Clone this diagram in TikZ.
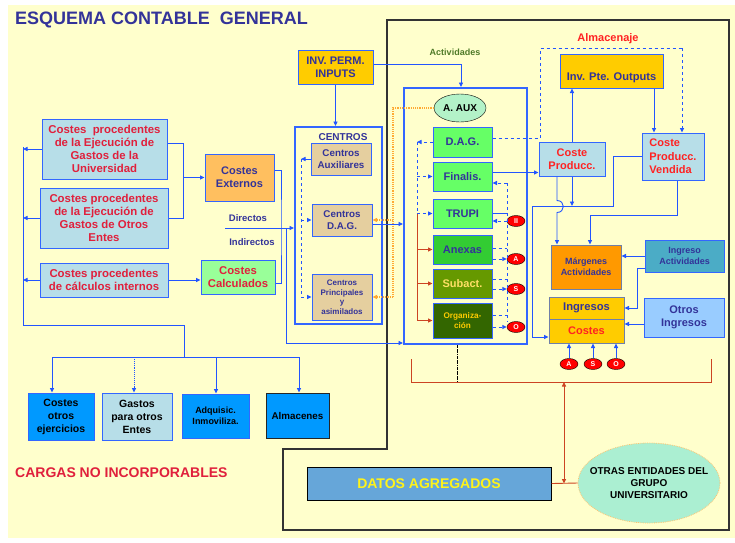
\documentclass[tikz,border=0pt]{standalone}
\usepackage{fontspec}
\setmainfont{Liberation Sans}
\usetikzlibrary{arrows.meta,shapes.geometric}

\definecolor{fondo}{HTML}{FFFFCC}
\definecolor{azulb}{HTML}{3366FF}
\definecolor{lazul}{HTML}{2255FF}
\definecolor{txtazul}{HTML}{333399}
\definecolor{txtrojo}{HTML}{E0203C}
\definecolor{rojo2}{HTML}{FF2222}
\definecolor{celeste}{HTML}{B7DEE8}
\definecolor{naranja}{HTML}{FFBF5F}
\definecolor{naranja2}{HTML}{FFAA33}
\definecolor{verdecl}{HTML}{99FF99}
\definecolor{oro}{HTML}{FFCC00}
\definecolor{tostado}{HTML}{E5CF9F}
\definecolor{verde1}{HTML}{66FF66}
\definecolor{verde2}{HTML}{33CC33}
\definecolor{oliva}{HTML}{669900}
\definecolor{verde3}{HTML}{336600}
\definecolor{verdetxt}{HTML}{4F7A28}
\definecolor{menta}{HTML}{B3F2C8}
\definecolor{menta2}{HTML}{ABEFD2}
\definecolor{margen}{HTML}{FF9900}
\definecolor{teal}{HTML}{4BACC6}
\definecolor{cielo}{HTML}{99CCFF}
\definecolor{azul2}{HTML}{0099FF}
\definecolor{datos}{HTML}{66A6D9}
\definecolor{rojoosc}{HTML}{CC4422}
\definecolor{bordegris}{HTML}{6F7FA8}

\newcommand{\tam}[2]{\fontsize{#1}{#2}\selectfont\bfseries}

\tikzset{
  caja/.style={draw=azulb, line width=1pt, inner sep=0pt, align=center},
  linea/.style={draw=lazul, line width=0.9pt},
  flecha/.style={linea, -{Triangle[length=4.5pt,width=4pt]}},
  naranjad/.style={draw=naranja2, line width=1.2pt, densely dotted},
  marron/.style={draw=rojoosc, line width=0.9pt},
  bola/.style={ellipse, draw=black, fill=red, text=white, font=\tam{7}{8},
    minimum width=18pt, minimum height=11pt, inner sep=0pt},
  etiq/.style={inner sep=0pt, text=txtazul, font=\tam{9.5}{11}},
}

\begin{document}
\begin{tikzpicture}[x=1pt,y=-1pt]
\fill[white] (0,0) rectangle (735,542);
\fill[fondo] (8,5) rectangle (735,538);
\useasboundingbox (0,0) rectangle (735,542);

\draw[black!80, line width=1.2pt] (387,20) -- (729,20) -- (729,530) -- (283,530)
  -- (283,449) -- (387,449) -- cycle;

\node[anchor=west, inner sep=0pt, text=txtazul, font=\tam{18}{20}] (titulo) at (15,19.5)
  {ESQUEMA CONTABLE\ \ GENERAL};
\node[anchor=west, inner sep=0pt, text=txtrojo, font=\tam{14}{16}] (cargas) at (15,473)
  {CARGAS NO INCORPORABLES};

% origen de los costes
\node[caja, fill=celeste, text=txtrojo, font=\tam{11.4}{13}, minimum width=125pt,
  minimum height=60pt] (univ) at (104.5,149)
  {Costes\ \ procedentes\\de la Ejecución de\\Gastos de la\\Universidad};
\node[caja, fill=celeste, text=txtrojo, font=\tam{11.4}{13}, minimum width=128pt,
  minimum height=60pt] (otros) at (104,218)
  {Costes procedentes\\de la Ejecución de\\Gastos de Otros\\Entes};
\node[caja, fill=celeste, text=txtrojo, font=\tam{11.4}{13}, minimum width=128pt,
  minimum height=34pt] (calc) at (104,280)
  {Costes procedentes\\de cálculos internos};
\node[caja, fill=naranja, text=txtazul, font=\tam{11}{13}, minimum width=69pt,
  minimum height=47pt] (cext) at (239.5,177.5) {Costes\\Externos};
\node[caja, fill=verdecl, text=txtrojo, font=\tam{11.3}{13}, minimum width=74pt,
  minimum height=34pt] (ccal) at (238,277) {Costes\\Calculados};
\node[etiq] (ldir) at (248,218) {Directos};
\node[etiq] (lind) at (252,242) {Indirectos};

% cargas no incorporables
\node[caja, fill=azul2, font=\tam{10.5}{13}, minimum width=66pt, minimum height=47pt]
  (coe) at (61,416.5) {Costes\\otros\\ejercicios};
\node[caja, fill=celeste, font=\tam{10.5}{13}, minimum width=70pt, minimum height=47pt]
  (gpo) at (137,416.5) {Gastos\\para otros\\Entes};
\node[caja, fill=azul2, font=\tam{9}{10.7}, minimum width=67pt, minimum height=44pt]
  (adq) at (215.5,416) {Adquisic.\\Inmoviliza.};
\node[caja, draw=black!85, fill=azul2, font=\tam{9.8}{12}, minimum width=63pt,
  minimum height=45pt] (alm) at (297.5,415.5) {Almacenes};

% centros
\node[caja, fill=oro, text=txtazul, font=\tam{11}{13}, minimum width=75pt,
  minimum height=34pt] (inv) at (335.5,67) {INV. PERM.\\INPUTS};
\node[draw=azulb, line width=2pt, minimum width=87pt, minimum height=197pt]
  (centros) at (338.5,225.5) {};
\node[inner sep=0pt, text=txtazul, font=\tam{10}{12}] (lcentros) at (343,137) {CENTROS};
\node[caja, fill=tostado, text=txtazul, font=\tam{9.8}{12}, minimum width=60pt,
  minimum height=32pt] (caux) at (341,159) {Centros\\Auxiliares};
\node[caja, fill=tostado, text=txtazul, font=\tam{9.8}{12}, minimum width=60pt,
  minimum height=32pt] (cdag) at (342,220) {Centros\\D.A.G.};
\node[caja, fill=tostado, text=txtazul, font=\tam{8}{9.5}, minimum width=60pt,
  minimum height=46pt] (cpri) at (342,297) {Centros\\Principales\\y\\asimilados};

% actividades
\node[inner sep=0pt, text=verdetxt, font=\tam{9}{11}] (lact) at (455,52) {Actividades};
\node[draw=azulb, line width=2pt, minimum width=123pt, minimum height=256pt]
  (activ) at (465.5,216) {};
\node[ellipse, draw=black, fill=menta, font=\tam{10}{12}, inner sep=0pt,
  minimum width=52pt, minimum height=28pt] (aaux) at (460,108) {A. AUX};
\node[caja, fill=verde1, text=txtazul, font=\tam{11}{13}, minimum width=59pt,
  minimum height=30pt] (dag) at (462.5,142) {D.A.G.};
\node[caja, fill=verde1, text=txtazul, font=\tam{11}{13}, minimum width=59pt,
  minimum height=29pt] (fin) at (462.5,176.5) {Finalis.};
\node[caja, fill=verde1, text=txtazul, font=\tam{11}{13}, minimum width=59pt,
  minimum height=29pt] (trupi) at (462.5,213.5) {TRUPI};
\node[caja, fill=verde2, text=txtazul, font=\tam{11}{13}, minimum width=59pt,
  minimum height=29pt] (anexas) at (462.5,249.5) {Anexas};
\node[caja, fill=oliva, text=oro!60, font=\tam{11}{13}, minimum width=59pt,
  minimum height=29pt] (subact) at (462.5,283.5) {Subact.};
\node[caja, fill=verde3, text=oro, font=\tam{8.2}{10}, minimum width=59pt,
  minimum height=35pt] (org) at (462.5,320.5) {Organiza-\\ción};
\node[bola] (bII) at (516,221) {II};
\node[bola] (bA) at (516,259) {A};
\node[bola] (bS) at (516,289) {S};
\node[bola] (bO) at (516,327) {O};

% produccion y resultados
\node[inner sep=0pt, text=rojo2, font=\tam{11}{13}] (lalm) at (608,39) {Almacenaje};
\node[caja, fill=oro, minimum width=103pt, minimum height=34pt,
  label={[name=ipotxt, yshift=-7pt, inner sep=0pt, text=txtazul, font=\tam{11.1}{13}]center:Inv. Pte. Outputs}]
  (ipo) at (611.5,71) {};
\node[caja, fill=celeste, text=rojo2, font=\tam{11}{13}, minimum width=66pt,
  minimum height=34pt] (cp) at (572,159) {Coste\\Producc.};
\node[caja, fill=celeste, text=rojo2, font=\tam{11}{13.3}, align=left, minimum width=62pt,
  minimum height=47pt] (cpv) at (673,156.5) {Coste\\Producc.\\Vendida};
\node[caja, draw=bordegris, fill=margen, text=txtazul, font=\tam{9}{11}, minimum width=70pt,
  minimum height=44pt] (marg) at (586,267) {Márgenes\\Actividades};
\node[caja, fill=teal, text=txtazul, font=\tam{9}{11}, minimum width=79pt,
  minimum height=32pt] (ingact) at (684.5,256) {Ingreso\\Actividades};
\node[caja, draw=bordegris, fill=oro, text=txtazul, font=\tam{11.2}{13}, minimum width=75pt,
  minimum height=22pt] (ingresos) at (586.5,308) {Ingresos};
\node[caja, draw=bordegris, fill=oro, text=rojo2, font=\tam{11}{13}, minimum width=75pt,
  minimum height=24pt] (costes) at (586.5,331) {Costes};
\node[caja, fill=cielo, text=txtazul, font=\tam{11}{13}, minimum width=80pt,
  minimum height=39pt] (otrosing) at (684,317.5) {Otros\\Ingresos};
\node[bola] (sA) at (569,364) {A};
\node[bola] (sS) at (593,364) {S};
\node[bola] (sO) at (616,364) {O};

% datos agregados
\node[caja, draw=black, fill=datos, text=yellow!90!white, font=\tam{14}{16},
  minimum width=244pt, minimum height=33pt] (datos) at (429,483.5) {DATOS AGREGADOS};
\node[ellipse, draw=naranja2!70, densely dotted, line width=0.8pt, fill=menta2,
  font=\tam{10}{12}, align=center, inner xsep=-12pt, inner ysep=0pt,
  minimum width=142pt, minimum height=80pt] (otras) at (649,483)
  {OTRAS ENTIDADES DEL\\GRUPO\\UNIVERSITARIO};

% conexiones a la izquierda
\coordinate (lbt) at (23,147);
\coordinate (lbb) at (23,325);
\coordinate (bb) at (184,357);
\coordinate (bl) at (52,357);
\coordinate (b2) at (134,357);
\coordinate (b3) at (216,357);
\coordinate (br) at (299,357);
\draw[linea] (lbt) -- (lbb) -| (bb);
\draw[linea] (bl) -- (br);
\draw[flecha] (univ.west) -- (univ.west -| lbt);
\draw[flecha] (otros.west) -- (otros.west -| lbt);
\draw[flecha] (calc.west) -- (calc.west -| lbt);
\draw[flecha] (bl) -- (bl |- coe.north);
\draw[flecha, densely dotted] (b2) -- (b2 |- gpo.north);
\draw[flecha] (b3) -- (b3 |- adq.north);
\draw[flecha] (br) -- (br |- alm.north);

\coordinate (u1) at ([yshift=6pt]univ.east);
\coordinate (j1) at (183,177.5);
\draw[linea] (u1) -| (j1 |- otros.east) -- (otros.east);
\draw[flecha] (j1) -- (cext.west);
\draw[flecha] (calc.east) -- (calc.east -| ccal.west);
\coordinate (e1) at ([yshift=7.5pt]cext.east);
\coordinate (c1) at ([yshift=-6pt]ccal.east);
\coordinate (j3) at (281,228);
\draw[linea] (e1) -| (j3) |- (c1);
\coordinate (dir) at (225,228);
\draw[flecha] (dir) -- (dir -| centros.west);
\coordinate (j2) at (286,228);
\coordinate (a1) at ([yshift=2pt]activ.south west);
\draw[flecha] (j2) |- (a1);

% centros
\draw[flecha] (inv.south) -- (inv.south |- centros.north);
\coordinate (i1) at ([yshift=3pt]inv.east);
\coordinate (a2) at ([xshift=-4.5pt]activ.north);
\draw[flecha] (i1) -| (a2);
\coordinate (cl) at (301,159);
\draw[flecha] (caux.west) -- (cl);
\draw[linea, dashed] (cl) -- (cl |- cpri.west);
\draw[flecha, dashed] (cl |- cdag.west) -- (cdag.west);
\draw[flecha, dashed] (cl |- cpri.west) -- (cpri.west);
\coordinate (ol) at (393,108);
\draw[naranjad] (aaux.west) -- (ol) -- (ol |- cpri.east);
\draw[naranjad, -{Triangle[length=4.5pt,width=4pt]}] (ol |- cdag.east) -- (cdag.east);
\draw[naranjad, -{Triangle[length=4.5pt,width=4pt]}] (ol |- cpri.east) -- (cpri.east);
\coordinate (d1) at ([yshift=-4pt]cdag.east);
\draw[flecha] (d1) -- (d1 -| activ.west);

% actividades
\coordinate (dl) at (417,142);
\draw[flecha, dashed] (dag.west) -- (dl);
\draw[linea, dashed] (dl) -- (dl |- trupi.west);
\draw[flecha, dashed] (dl |- fin.west) -- (fin.west);
\draw[flecha, dashed] (dl |- trupi.west) -- (trupi.west);
\draw[marron] (dl |- trupi.west) -- (dl |- org.west);
\draw[marron, -{Triangle[length=4.5pt,width=4pt]}] (dl |- anexas.west) -- (anexas.west);
\draw[marron, -{Triangle[length=4.5pt,width=4pt]}] (dl |- subact.west) -- (subact.west);
\draw[marron, -{Triangle[length=4.5pt,width=4pt]}] (dl |- org.west) -- (org.west);

\coordinate (rt) at (507,183);
\coordinate (rb) at (507,322);
\draw[linea, dashed] (rt) -- (rb);
\draw[flecha, dashed] (rt) -- (rt -| fin.east);
\draw[linea] (trupi.east) -- (trupi.east -| rt);
\draw[flecha, dashed] (bII.west) -- (bII.west -| trupi.east);
\coordinate (x1) at ([yshift=1.5pt]anexas.east);
\coordinate (x2) at ([yshift=4.5pt]subact.east);
\coordinate (x3) at ([yshift=5.5pt]org.east);
\draw[linea, dashed] (x1) -- (x1 -| rt);
\draw[linea, dashed] (x2) -- (x2 -| rt);
\draw[linea, dashed] (x3) -- (x3 -| rt);
\draw[flecha, dashed] (bA.west -| anexas.east) -- (bA.west);
\draw[flecha, dashed] (bS.west -| subact.east) -- (bS.west);
\draw[flecha, dashed] (bO.west -| org.east) -- (bO.west);

% produccion
\coordinate (f1) at ([yshift=4pt]fin.east);
\draw[flecha] (f1) -- (f1 -| cp.west);
\coordinate (g1) at ([yshift=4pt]dag.east);
\coordinate (al1) at (540,48);
\coordinate (al2) at (682,48);
\draw[linea, dashed] (g1) -| (al1) -- (al2);
\draw[flecha, dashed] (al2) -- (al2 |- cpv.north);
\draw[flecha] (cp.north) -- (cp.north |- ipo.south);
\coordinate (o1) at ([xshift=42.5pt]ipo.south);
\draw[flecha] (o1) -- (o1 |- cpv.north);

\coordinate (p1) at ([xshift=-15pt]cp.south);
\coordinate (h1) at (613,206);
\coordinate (h2) at (532,206);
\coordinate (ce) at ([yshift=-6pt]costes.west);
\draw[flecha] (p1) -- ++(0,24) to[out=0,in=0,looseness=1.8] ++(0,12) -- (p1 |- marg.north);
\draw[flecha] (cp.south) -- (cp.south |- h1);
\draw[flecha] (cpv.west) -| (h1) -- (h2) |- (ce);
\coordinate (v1) at ([xshift=4pt]cpv.south);
\coordinate (m1) at ([xshift=4pt]marg.north);
\draw[flecha] (v1) -- ++(0,35) -| (m1);
\draw[flecha] (ingact.west) -- (ingact.west -| marg.east);
\coordinate (ia) at ([yshift=-12pt]ingact.west);
\draw[flecha] (ia) -- ++(-7,0) |- (ingresos.east);
\coordinate (oi) at ([yshift=-6.5pt]otrosing.west);
\draw[flecha] (oi) -- (oi -| costes.east);
\draw[flecha] (sA.north) -- (sA.north |- costes.south);
\draw[flecha] (sS.north) -- (sS.north |- costes.south);
\draw[flecha] (sO.north) -- (sO.north |- costes.south);

% datos agregados
\coordinate (r1) at (411,359);
\coordinate (r2) at (711,359);
\coordinate (r3) at (711,382);
\coordinate (rm) at (564,382);
\draw[marron] (r1) |- (r3) -- (r2);
\coordinate (dd) at ([xshift=-8.5pt]activ.south);
\draw[black, densely dashdotted, line width=0.7pt] (dd) -- (dd |- r3);
\draw[marron, {Triangle[length=4.5pt,width=4pt]}-{Triangle[length=4.5pt,width=4pt]}]
  (rm) -- (rm |- datos.east);
\draw[marron] (datos.east) -- (otras.west);
\end{tikzpicture}
\end{document}
